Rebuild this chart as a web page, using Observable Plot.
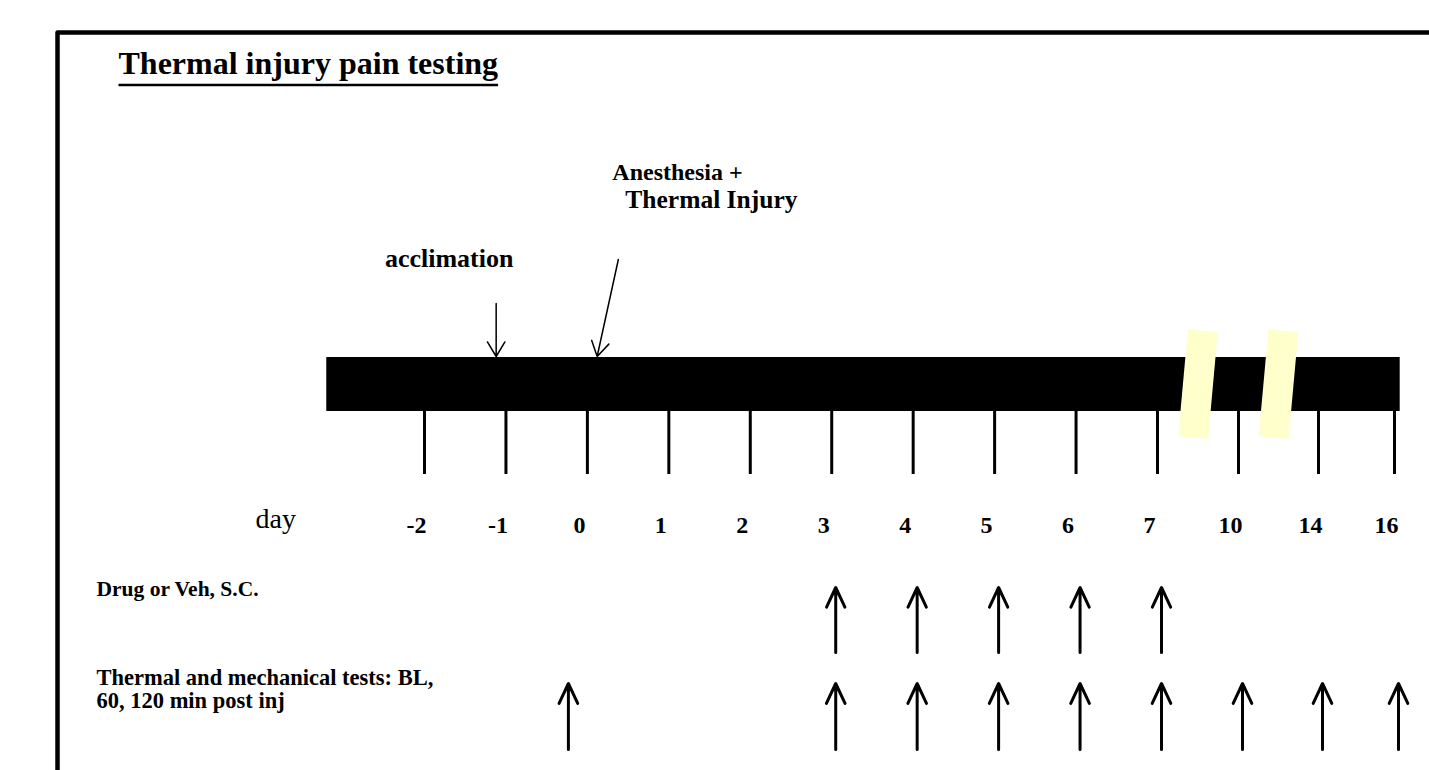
<!DOCTYPE html>
<html>
<head>
<meta charset="utf-8">
<script src="https://cdn.jsdelivr.net/npm/d3@7"></script>
<script src="https://cdn.jsdelivr.net/npm/@observablehq/plot@0.6"></script>
<style>
  html, body { margin: 0; padding: 0; background: #fff; }
  #chart svg { display: block; }
</style>
</head>
<body>
<div id="chart"></div>
<script>
// ---- data ----
const title = "Thermal injury pain testing";
const days = [-2, -1, 0, 1, 2, 3, 4, 5, 6, 7, 10, 14, 16];
const dayLabels = ["-2", "-1", "0", "1", "2", "3", "4", "5", "6", "7", "10", "14", "16"];
const axisName = "day";
const barSpan = [-3.2, 16.15];          // timeline bar extent (days)
const breakDays = [8.5, 12];            // axis breaks (between 7–10 and 10–14)
const acclimationDay = -1.12;           // acclimation arrow
const injuryArrowDays = [0.38, 0.12];   // injury arrow: start, end
const eventLabels = ["acclimation", "Anesthesia +", "Thermal Injury"];
const drugDays = [3, 4, 5, 6, 7];
const testDays = [0, 3, 4, 5, 6, 7, 10, 14, 16];
const rowLabels = ["Drug or Veh, S.C.", "Thermal and mechanical tests: BL,\n60, 120 min post inj"];

// ---- layout (pixels) ----
const W = 1429, H = 770;
const L = {
  barTop: 357, barBottom: 411, tickBottom: 474,
  breakCenter: 383.5, breakLen: 107,
  dayLabelY: 525,
  acclimArrow: [303, 356], injuryArrow: [259, 356],
  drugArrow: [652, 587], testArrow: [749, 683],
  drugLabelY: 589, testLabelY: 689
};

const slab = { draw(ctx, l) { ctx.moveTo(0, 0); ctx.lineTo(0, -l); } };
const bold = { fontWeight: "bold" };

const chart = Plot.plot({
  width: W,
  height: H,
  margin: 0,
  style: { fontFamily: "'Liberation Serif', 'Times New Roman', serif", background: "#fff", color: "#000", overflow: "visible" },
  x: { type: "linear", domain: [-2, 7, 10, 14, 16], range: [424, 1157, 1238, 1318, 1394], axis: null },
  y: { type: "identity", axis: null },
  marks: [
    // tick stubs under the bar
    Plot.ruleX(days, { x: d => d, y1: L.barBottom - 2, y2: L.tickBottom, stroke: "#000", strokeWidth: 3 }),
    // timeline bar
    Plot.rect([barSpan], { x1: d => d[0], x2: d => d[1], y1: L.barTop, y2: L.barBottom, fill: "#000" }),
    // axis breaks
    Plot.vector(breakDays, { x: d => d, y: L.breakCenter, length: L.breakLen, rotate: 5.2, anchor: "middle",
      shape: slab, stroke: "#ffffcc", strokeWidth: 30, strokeLinecap: "butt" }),
    // day labels
    Plot.text(days, { x: d => d, y: L.dayLabelY, text: (d, i) => dayLabels[i], dx: -8, fontSize: 24, ...bold }),
    Plot.text([axisName], { frameAnchor: "left", y: 519, dx: 255, textAnchor: "start", fontSize: 28 }),
    // event arrows
    Plot.arrow([acclimationDay], { x: d => d, y1: L.acclimArrow[0], y2: L.acclimArrow[1],
      stroke: "#000", strokeWidth: 1.5, headLength: 17, headAngle: 62, bend: 0 }),
    Plot.arrow([injuryArrowDays], { x1: d => d[0], x2: d => d[1], y1: L.injuryArrow[0], y2: L.injuryArrow[1],
      stroke: "#000", strokeWidth: 1.5, headLength: 17, headAngle: 62, bend: 0 }),
    // event labels
    Plot.text([acclimationDay], { x: d => d, y: 258, text: () => eventLabels[0], dx: -47, fontSize: 26, ...bold }),
    Plot.text([injuryArrowDays[0]], { x: d => d, y: 172, text: () => eventLabels[1], dx: -6, textAnchor: "start", fontSize: 24, ...bold }),
    Plot.text([injuryArrowDays[0]], { x: d => d, y: 199, text: () => eventLabels[2], dx: 7, textAnchor: "start", fontSize: 25.5, ...bold }),
    // drug arrows
    Plot.arrow(drugDays, { x: d => d, y1: L.drugArrow[0], y2: L.drugArrow[1], dx: 4,
      stroke: "#000", strokeWidth: 3, headLength: 11, headAngle: 50, bend: 0 }),
    // test arrows
    Plot.arrow(testDays.filter(d => d !== 0), { x: d => d, y1: L.testArrow[0], y2: L.testArrow[1], dx: 4,
      stroke: "#000", strokeWidth: 3, headLength: 11, headAngle: 50, bend: 0 }),
    Plot.arrow(testDays.filter(d => d === 0), { x: d => d, y1: L.testArrow[0], y2: L.testArrow[1], dx: -19,
      stroke: "#000", strokeWidth: 3, headLength: 11, headAngle: 50, bend: 0 }),
    // row labels
    Plot.text([rowLabels[0]], { frameAnchor: "left", y: L.drugLabelY, dx: 96, textAnchor: "start", fontSize: 21.5, ...bold }),
    Plot.text([rowLabels[1]], { frameAnchor: "left", y: L.testLabelY, dx: 96, textAnchor: "start", fontSize: 22.5, lineHeight: 1.0, ...bold }),
    // title
    Plot.text([title], { frameAnchor: "left", y: 63, dx: 118, textAnchor: "start", fontSize: 32, ...bold })
  ]
});

document.getElementById("chart").appendChild(chart);

// decorate: underline the title, draw the panel frame
const svg = d3.select(chart);
const titleNode = svg.selectAll("text").filter(function() { return this.textContent === title; }).node();
const svgRect = chart.getBoundingClientRect();
const tr = titleNode.getBoundingClientRect();
const deco = svg.append("g").attr("fill", "none").attr("stroke", "#000");
deco.append("line")
  .attr("x1", tr.left - svgRect.left).attr("x2", tr.right - svgRect.left)
  .attr("y1", 85).attr("y2", 85).attr("stroke-width", 2.5);
deco.append("path").attr("d", `M57.5,${H}L57.5,32.5L${W},32.5`).attr("stroke-width", 4.5).attr("stroke-linejoin", "round");
</script>
</body>
</html>
